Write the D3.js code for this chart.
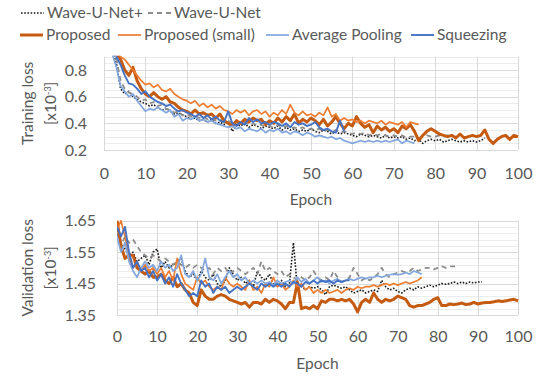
<!DOCTYPE html>
<html>
<head>
<meta charset="utf-8">
<script src="https://cdn.jsdelivr.net/npm/d3@7"></script>
<style>
  body { margin: 0; background: #fff; }
  svg { font-family: Lato, "Liberation Sans", sans-serif; }
</style>
</head>
<body>
<svg id="chart" width="539" height="376"></svg>
<script>
const seriesNames = ["Wave-U-Net+", "Wave-U-Net", "Proposed", "Proposed (small)", "Average Pooling", "Squeezing"];
const xTicks = [0, 10, 20, 30, 40, 50, 60, 70, 80, 90, 100];
const trainTicks = [0.2, 0.4, 0.6, 0.8];
const valTicks = [1.35, 1.45, 1.55, 1.65];
const trainStartEpoch = 1;
const valStartEpoch = 0;

// training loss [x10^-3], one value per epoch from epoch 1
const trainWaveUNetPlus = [1.1,0.95,0.85,0.66,0.62,0.64,0.6,0.58,0.56,0.55,0.53,0.54,0.52,0.5,0.51,0.49,0.47,0.48,0.46,0.45,0.43,0.44,0.42,0.43,0.41,0.43,0.4,0.41,0.39,0.41,0.34,0.39,0.38,0.4,0.37,0.39,0.38,0.36,0.38,0.37,0.36,0.38,0.35,0.37,0.35,0.36,0.34,0.35,0.34,0.36,0.34,0.33,0.35,0.34,0.32,0.34,0.32,0.33,0.32,0.31,0.3,0.32,0.31,0.3,0.31,0.3,0.29,0.31,0.29,0.3,0.29,0.3,0.28,0.29,0.27,0.28,0.25,0.27,0.28,0.27,0.28,0.26,0.27,0.28,0.27,0.26,0.27,0.26,0.27,0.26,0.27,0.29];
const trainWaveUNet = [1.15,0.97,0.88,0.72,0.66,0.63,0.62,0.6,0.57,0.58,0.55,0.56,0.53,0.54,0.51,0.5,0.48,0.49,0.46,0.47,0.45,0.46,0.44,0.45,0.43,0.44,0.42,0.43,0.41,0.42,0.4,0.41,0.39,0.41,0.39,0.4,0.38,0.39,0.37,0.38,0.37,0.39,0.37,0.38,0.36,0.37,0.36,0.37,0.35,0.36,0.35,0.36,0.34,0.35,0.34,0.35,0.33,0.34,0.33,0.32,0.33,0.32,0.33,0.31,0.32,0.31,0.32,0.31,0.3,0.31,0.3,0.31,0.29,0.3,0.3,0.29,0.3,0.31,0.3,0.3,0.31,0.3,0.31,0.3,0.3];
const trainProposed = [1.2,0.98,0.93,0.88,0.8,0.76,0.82,0.72,0.66,0.62,0.6,0.63,0.6,0.58,0.6,0.56,0.55,0.52,0.5,0.49,0.47,0.5,0.47,0.48,0.46,0.47,0.44,0.47,0.42,0.4,0.38,0.42,0.4,0.43,0.41,0.44,0.42,0.43,0.39,0.42,0.4,0.44,0.41,0.45,0.42,0.47,0.4,0.43,0.41,0.44,0.42,0.39,0.43,0.38,0.41,0.45,0.4,0.36,0.4,0.38,0.45,0.4,0.37,0.39,0.33,0.38,0.35,0.37,0.34,0.36,0.33,0.38,0.36,0.39,0.34,0.27,0.31,0.34,0.36,0.34,0.32,0.31,0.3,0.31,0.29,0.32,0.29,0.3,0.31,0.3,0.31,0.35,0.28,0.25,0.28,0.3,0.31,0.28,0.31,0.3];
const trainProposedSmall = [1.3,1.05,0.96,0.9,0.88,0.84,0.8,0.76,0.72,0.69,0.7,0.67,0.69,0.65,0.64,0.66,0.62,0.6,0.58,0.57,0.55,0.57,0.53,0.55,0.52,0.54,0.51,0.53,0.5,0.49,0.47,0.5,0.48,0.5,0.46,0.49,0.5,0.47,0.49,0.45,0.48,0.46,0.5,0.47,0.54,0.48,0.46,0.49,0.46,0.47,0.45,0.48,0.46,0.52,0.45,0.47,0.42,0.44,0.42,0.43,0.41,0.42,0.4,0.42,0.41,0.4,0.42,0.39,0.41,0.4,0.39,0.41,0.37,0.41,0.4,0.39];
const trainAvgPool = [1.15,0.92,0.82,0.68,0.64,0.6,0.62,0.57,0.53,0.49,0.51,0.5,0.52,0.5,0.48,0.5,0.45,0.47,0.42,0.44,0.43,0.45,0.42,0.43,0.41,0.42,0.4,0.39,0.38,0.37,0.38,0.36,0.37,0.34,0.36,0.35,0.34,0.36,0.33,0.35,0.34,0.36,0.33,0.34,0.32,0.34,0.33,0.31,0.33,0.32,0.3,0.31,0.3,0.29,0.3,0.28,0.29,0.27,0.26,0.25,0.26,0.27,0.26,0.27,0.26,0.27,0.26,0.27,0.26,0.27,0.28,0.25,0.27,0.26,0.25];
const trainSqueezing = [1.25,0.98,0.9,0.84,0.76,0.7,0.69,0.66,0.62,0.64,0.6,0.58,0.56,0.55,0.53,0.54,0.51,0.49,0.5,0.48,0.47,0.45,0.47,0.44,0.46,0.43,0.45,0.42,0.41,0.49,0.4,0.38,0.41,0.39,0.44,0.41,0.43,0.4,0.41,0.39,0.41,0.4,0.38,0.4,0.37,0.41,0.39,0.4,0.38,0.39,0.41,0.37,0.35,0.36,0.34,0.33,0.42,0.34];

// validation loss [x10^-3], one value per epoch from epoch 0
const valWaveUNetPlus = [1.63,1.58,1.56,1.54,1.55,1.52,1.53,1.54,1.51,1.55,1.56,1.5,1.52,1.5,1.51,1.52,1.53,1.49,1.47,1.48,1.46,1.49,1.47,1.46,1.48,1.45,1.44,1.46,1.5,1.48,1.46,1.47,1.45,1.46,1.44,1.49,1.47,1.46,1.48,1.45,1.44,1.46,1.44,1.45,1.58,1.43,1.44,1.43,1.44,1.435,1.44,1.43,1.415,1.44,1.445,1.44,1.435,1.44,1.43,1.42,1.425,1.43,1.42,1.425,1.43,1.425,1.46,1.44,1.43,1.435,1.425,1.42,1.43,1.435,1.43,1.44,1.435,1.44,1.445,1.44,1.445,1.45,1.448,1.45,1.455,1.45,1.455,1.45,1.455,1.452,1.455,1.455];
const valWaveUNet = [1.61,1.57,1.6,1.58,1.59,1.57,1.55,1.54,1.53,1.54,1.53,1.52,1.53,1.52,1.51,1.52,1.51,1.5,1.51,1.5,1.51,1.5,1.49,1.5,1.48,1.5,1.49,1.5,1.48,1.49,1.5,1.49,1.48,1.49,1.5,1.48,1.52,1.49,1.5,1.49,1.48,1.49,1.47,1.48,1.47,1.46,1.47,1.46,1.47,1.49,1.47,1.46,1.47,1.46,1.49,1.47,1.455,1.46,1.47,1.5,1.48,1.46,1.47,1.46,1.47,1.48,1.5,1.48,1.47,1.48,1.485,1.49,1.485,1.49,1.5,1.49,1.495,1.5,1.5,1.495,1.5,1.505,1.5,1.505,1.505,1.505];
const valProposed = [1.65,1.57,1.53,1.54,1.54,1.5,1.49,1.48,1.49,1.47,1.47,1.48,1.46,1.45,1.47,1.44,1.45,1.43,1.42,1.39,1.38,1.43,1.41,1.4,1.4,1.41,1.415,1.41,1.4,1.395,1.39,1.385,1.39,1.375,1.39,1.39,1.385,1.4,1.39,1.4,1.395,1.385,1.37,1.39,1.39,1.455,1.37,1.375,1.37,1.38,1.37,1.395,1.39,1.4,1.4,1.395,1.4,1.395,1.4,1.385,1.36,1.39,1.4,1.39,1.42,1.4,1.39,1.4,1.395,1.4,1.41,1.405,1.4,1.38,1.375,1.38,1.38,1.385,1.39,1.4,1.405,1.38,1.38,1.385,1.383,1.385,1.388,1.383,1.385,1.39,1.385,1.388,1.39,1.39,1.392,1.395,1.393,1.395,1.398,1.4,1.395];
const valProposedSmall = [1.62,1.65,1.6,1.53,1.5,1.52,1.49,1.51,1.49,1.5,1.48,1.5,1.47,1.49,1.46,1.53,1.48,1.45,1.44,1.43,1.47,1.45,1.46,1.44,1.43,1.44,1.43,1.47,1.45,1.44,1.45,1.44,1.43,1.46,1.43,1.44,1.42,1.45,1.44,1.47,1.44,1.45,1.43,1.44,1.46,1.44,1.45,1.43,1.44,1.42,1.43,1.42,1.43,1.42,1.425,1.43,1.42,1.43,1.435,1.43,1.44,1.435,1.44,1.44,1.445,1.44,1.445,1.45,1.445,1.45,1.445,1.45,1.455,1.45,1.455,1.46,1.47];
const valAvgPool = [1.6,1.55,1.58,1.52,1.49,1.47,1.5,1.52,1.5,1.51,1.49,1.52,1.5,1.51,1.49,1.5,1.54,1.48,1.47,1.49,1.46,1.48,1.53,1.47,1.46,1.48,1.45,1.47,1.49,1.47,1.48,1.46,1.47,1.45,1.46,1.45,1.46,1.45,1.455,1.445,1.46,1.45,1.455,1.46,1.45,1.47,1.455,1.465,1.45,1.46,1.47,1.455,1.46,1.45,1.46,1.465,1.455,1.46,1.465,1.46,1.465,1.47,1.465,1.47,1.47,1.475,1.47,1.475,1.478,1.48,1.478,1.48,1.485,1.48,1.49,1.485,1.48];
const valSqueezing = [1.63,1.6,1.63,1.55,1.5,1.52,1.49,1.5,1.47,1.49,1.46,1.48,1.45,1.47,1.44,1.48,1.45,1.43,1.41,1.42,1.41,1.46,1.44,1.45,1.42,1.44,1.43,1.44,1.42,1.43,1.44,1.43,1.44,1.45,1.44,1.43,1.45,1.44,1.45,1.44,1.45,1.44,1.45,1.44,1.455,1.45,1.44,1.455,1.45,1.46,1.45,1.46,1.455,1.46,1.45,1.46,1.455,1.46,1.46];

const styles = {
  "Wave-U-Net+": { color: "#1a1a1a", width: 1.6, dash: "1.6,1.6" },
  "Wave-U-Net": { color: "#8c8c8c", width: 1.8, dash: "5,4" },
  "Proposed": { color: "#c55a11", width: 3, dash: null },
  "Proposed (small)": { color: "#ed7d31", width: 1.7, dash: null },
  "Average Pooling": { color: "#82a7de", width: 1.7, dash: null },
  "Squeezing": { color: "#4472c4", width: 1.9, dash: null }
};

const trainSeries = [trainWaveUNetPlus, trainWaveUNet, trainProposed, trainProposedSmall, trainAvgPool, trainSqueezing];
const valSeries = [valWaveUNetPlus, valWaveUNet, valProposed, valProposedSmall, valAvgPool, valSqueezing];

const svg = d3.select("#chart");
const textColor = "#595959";

function drawPanel(opts) {
  const x = d3.scaleLinear().domain([0, 100]).range([opts.left, 518]);
  const y = d3.scaleLinear().domain(opts.domain).range([opts.bottom, opts.top]);
  const g = svg.append("g");

  // minor + major horizontal grid
  const minor = d3.range(opts.domain[0], opts.domain[1] + 1e-9, opts.minorStep);
  g.selectAll(".hminor").data(minor).enter().append("line")
    .attr("x1", x(0)).attr("x2", x(100))
    .attr("y1", (d) => Math.round(y(d)) + 0.5).attr("y2", (d) => Math.round(y(d)) + 0.5)
    .attr("stroke", "#ececec").attr("stroke-width", 1);
  g.selectAll(".hmajor").data(opts.ticks).enter().append("line")
    .attr("x1", x(0)).attr("x2", x(100))
    .attr("y1", (d) => Math.round(y(d)) + 0.5).attr("y2", (d) => Math.round(y(d)) + 0.5)
    .attr("stroke", "#d9d9d9").attr("stroke-width", 1);
  g.selectAll(".vgrid").data(xTicks).enter().append("line")
    .attr("x1", (d) => Math.round(x(d)) + 0.5).attr("x2", (d) => Math.round(x(d)) + 0.5)
    .attr("y1", y(opts.domain[1])).attr("y2", y(opts.domain[0]))
    .attr("stroke", "#d9d9d9").attr("stroke-width", 1);

  // axes
  const yAxis = d3.axisLeft(y).tickValues(opts.ticks).tickSize(0).tickPadding(opts.left - opts.labelRight)
    .tickFormat(d3.format(opts.fmt));
  const ya = g.append("g").attr("transform", `translate(${opts.left},0)`).call(yAxis);
  ya.select(".domain").remove();
  ya.selectAll("text").attr("fill", textColor).style("font-size", "16px").style("font-family", "Lato, sans-serif");

  const xAxis = d3.axisBottom(x).tickValues(xTicks).tickSize(0).tickPadding(opts.xPad);
  const xa = g.append("g").attr("transform", `translate(0,${opts.bottom})`).call(xAxis);
  xa.select(".domain").remove();
  xa.selectAll("text").attr("fill", textColor).style("font-size", "16px").style("font-family", "Lato, sans-serif");

  g.append("text").attr("x", x(50)).attr("y", opts.epochY).attr("text-anchor", "middle")
    .attr("fill", textColor).style("font-size", "15.5px").text("Epoch");

  const cy = (opts.top + opts.bottom) / 2 + opts.titleShift;
  g.append("text").attr("transform", `translate(33,${cy}) rotate(-90)`).attr("text-anchor", "middle")
    .attr("fill", textColor).style("font-size", "15.5px").text(opts.title);
  const unit = g.append("text").attr("transform", `translate(56,${cy}) rotate(-90)`).attr("text-anchor", "middle")
    .attr("fill", textColor).style("font-size", "15.5px");
  unit.append("tspan").text("[x10");
  unit.append("tspan").attr("dy", -5).style("font-size", "9px").text("-3");
  unit.append("tspan").attr("dy", 5).text("]");

  // clip + lines
  const clipId = "clip" + opts.id;
  svg.append("clipPath").attr("id", clipId).append("rect")
    .attr("x", x(0)).attr("y", y(opts.domain[1]) - 1)
    .attr("width", x(100) - x(0) + 2).attr("height", y(opts.domain[0]) - y(opts.domain[1]) + 2);

  const line = d3.line().x((d) => x(d[0])).y((d) => y(d[1]));
  const lg = g.append("g").attr("clip-path", `url(#${clipId})`);
  opts.series.forEach((vals, i) => {
    const st = styles[seriesNames[i]];
    const pts = vals.map((v, k) => [k + opts.start, v]);
    lg.append("path").datum(pts).attr("d", line)
      .attr("fill", "none").attr("stroke", st.color).attr("stroke-width", st.width)
      .attr("stroke-dasharray", st.dash).attr("stroke-linejoin", "round");
  });
}

drawPanel({ id: "train", left: 104, top: 56.7, bottom: 150, domain: [0.2, 0.9], ticks: trainTicks, minorStep: 0.05,
  fmt: ".1f", labelRight: 87, xPad: 18, epochY: 205, title: "Training loss", titleShift: 0,
  series: trainSeries, start: trainStartEpoch });
drawPanel({ id: "val", left: 117, top: 220.7, bottom: 315, domain: [1.35, 1.65], ticks: valTicks, minorStep: 0.02,
  fmt: ".2f", labelRight: 96, xPad: 16, epochY: 369, title: "Validation loss", titleShift: 0,
  series: valSeries, start: valStartEpoch });

// legend
const legend = [
  { name: "Wave-U-Net+", x: 21, y: 13 },
  { name: "Wave-U-Net", x: 148, y: 13 },
  { name: "Proposed", x: 20, y: 35 },
  { name: "Proposed (small)", x: 118, y: 35 },
  { name: "Average Pooling", x: 266, y: 35 },
  { name: "Squeezing", x: 411, y: 35 }
];
const lgd = svg.append("g");
legend.forEach((d) => {
  const st = styles[d.name];
  lgd.append("line").attr("x1", d.x).attr("x2", d.x + 23).attr("y1", d.y).attr("y2", d.y)
    .attr("stroke", st.color).attr("stroke-width", st.width).attr("stroke-dasharray", st.dash);
  lgd.append("text").attr("x", d.x + 26).attr("y", d.y).attr("dy", "0.35em")
    .attr("fill", textColor).style("font-size", "15.5px").text(d.name);
});
</script>
</body>
</html>
